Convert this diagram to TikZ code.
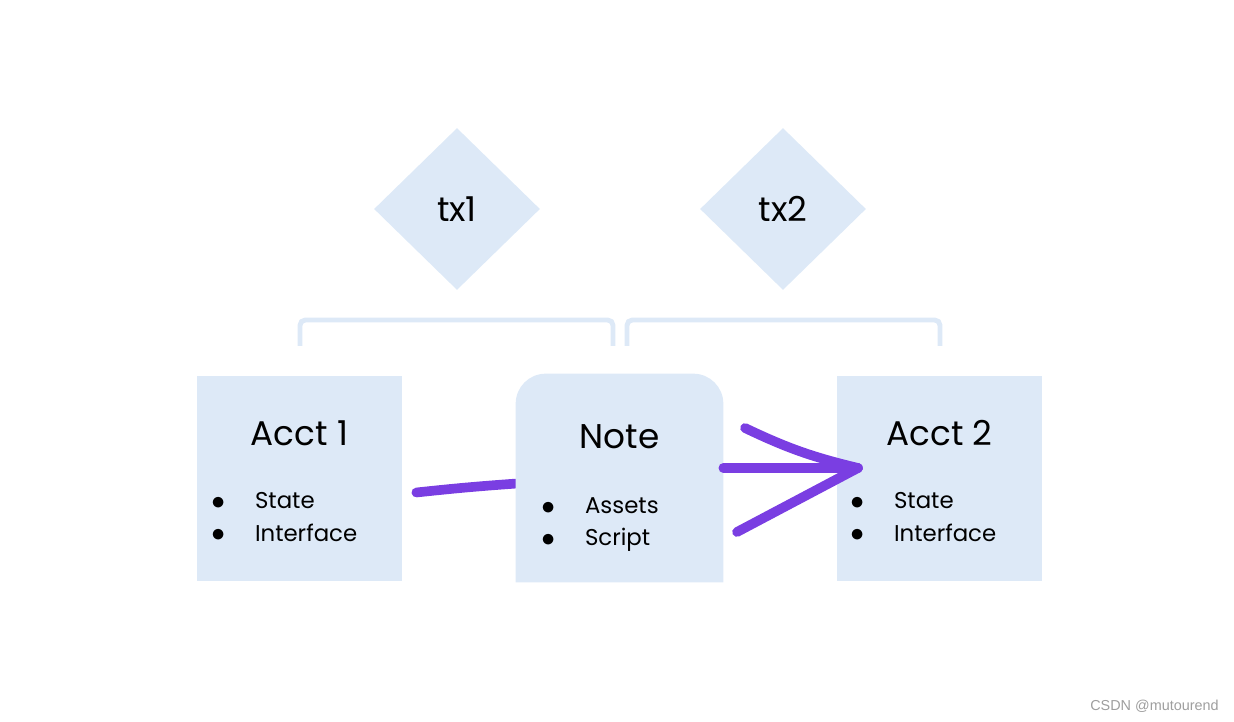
\documentclass[tikz,border=0pt]{standalone}
\usepackage{fontspec}
\setsansfont{Poppins}
\newfontfamily\markfont{Liberation Sans}
\usetikzlibrary{shapes}
\definecolor{boxblue}{RGB}{221,233,247}
\definecolor{penpurple}{RGB}{122,62,226}
\newcommand{\bull}{\makebox[10pt][c]{\raisebox{-0.5pt}{\scalebox{1.3}{$\bullet$}}}\hspace{16pt}}

\begin{document}
\begin{tikzpicture}[x = 0.02cm, y = -0.02cm, font=\sffamily]
	\tikzstyle{acctStyle} = [shape = rectangle, minimum width = 4.1cm, minimum height = 4.1cm, inner sep = 0pt, fill = boxblue]
	\tikzstyle{noteStyle} = [shape = rectangle, minimum width = 4.14cm, minimum height = 4.16cm, inner sep = 0pt]
	\tikzstyle{txStyle} = [shape = diamond, minimum width = 3.32cm, minimum height = 3.24cm, inner sep = 0pt, fill = boxblue, font = \sffamily\fontsize{19.5}{23}\selectfont]
	\tikzstyle{titleStyle} = [inner sep = 0pt, font = \sffamily\fontsize{19.5}{23}\selectfont]
	\tikzstyle{itemStyle} = [anchor = base west, inner sep = 0pt, font = \sffamily\fontsize{13}{18}\selectfont]
	\tikzstyle{bracketStyle} = [draw = boxblue, line width = 2.8pt, rounded corners = 3pt]
	\tikzstyle{penStyle} = [draw = penpurple, line width = 5.5pt, line cap = round]
	\useasboundingbox (0, 0) rectangle (1234, 722);
	% transactions
	\node[txStyle] (tx1) at (457, 209) {tx1};
	\node[txStyle] (tx2) at (783, 209) {tx2};
	\draw[bracketStyle] (300, 346) -- (300, 320) -- (613, 320) -- (613, 346);
	\draw[bracketStyle] (627, 346) -- (627, 320) -- (940, 320) -- (940, 346);
	% accounts and note
	\node[acctStyle] (acct1) at (299.5, 478.5) {};
	\node[acctStyle] (acct2) at (939.5, 478.5) {};
	\node[noteStyle] (note) at (619.5, 478) {};
	\draw[penStyle] ([shift={(14, 14)}]acct1.east) to[bend left = 1] (note);
	\fill[boxblue] (note.south west) -- ([yshift = -0.6cm]note.north west) arc[start angle = 180, end angle = 90, radius = 0.6cm]
		-- ([xshift = -0.6cm]note.north east) arc[start angle = 90, end angle = 0, radius = 0.6cm] -- (note.south east) -- cycle;
	\node[titleStyle] (acct1title) at (299.5, 433) {Acct 1};
	\node[titleStyle] (notetitle) at (619.5, 437) {Note};
	\node[titleStyle] (acct2title) at (939.5, 433) {Acct 2};
	\node[itemStyle] (acct1state) at (209, 509) {\bull State};
	\node[itemStyle] (acct1iface) at (209, 541) {\bull Interface};
	\node[itemStyle] (noteassets) at (539, 514) {\bull Assets};
	\node[itemStyle] (notescript) at (539, 546) {\bull Script};
	\node[itemStyle] (acct2state) at (848, 509) {\bull State};
	\node[itemStyle] (acct2iface) at (848, 541) {\bull Interface};
	% hand drawn arrow
	\coordinate (tip) at (858, 468);
	\coordinate (wingup) at (745, 428);
	\coordinate (winglow) at (737, 532);
	\draw[penStyle] (note.east |- tip) -- (tip);
	\draw[penStyle] (wingup) to[bend right = 6] (tip);
	\draw[penStyle] (winglow) -- (tip);
	\node[anchor = east, inner sep = 0pt, text = black!38, font = \markfont\fontsize{8.2}{10}\selectfont] (mark) at (1219, 706) {CSDN @mutourend};
\end{tikzpicture}
\end{document}
